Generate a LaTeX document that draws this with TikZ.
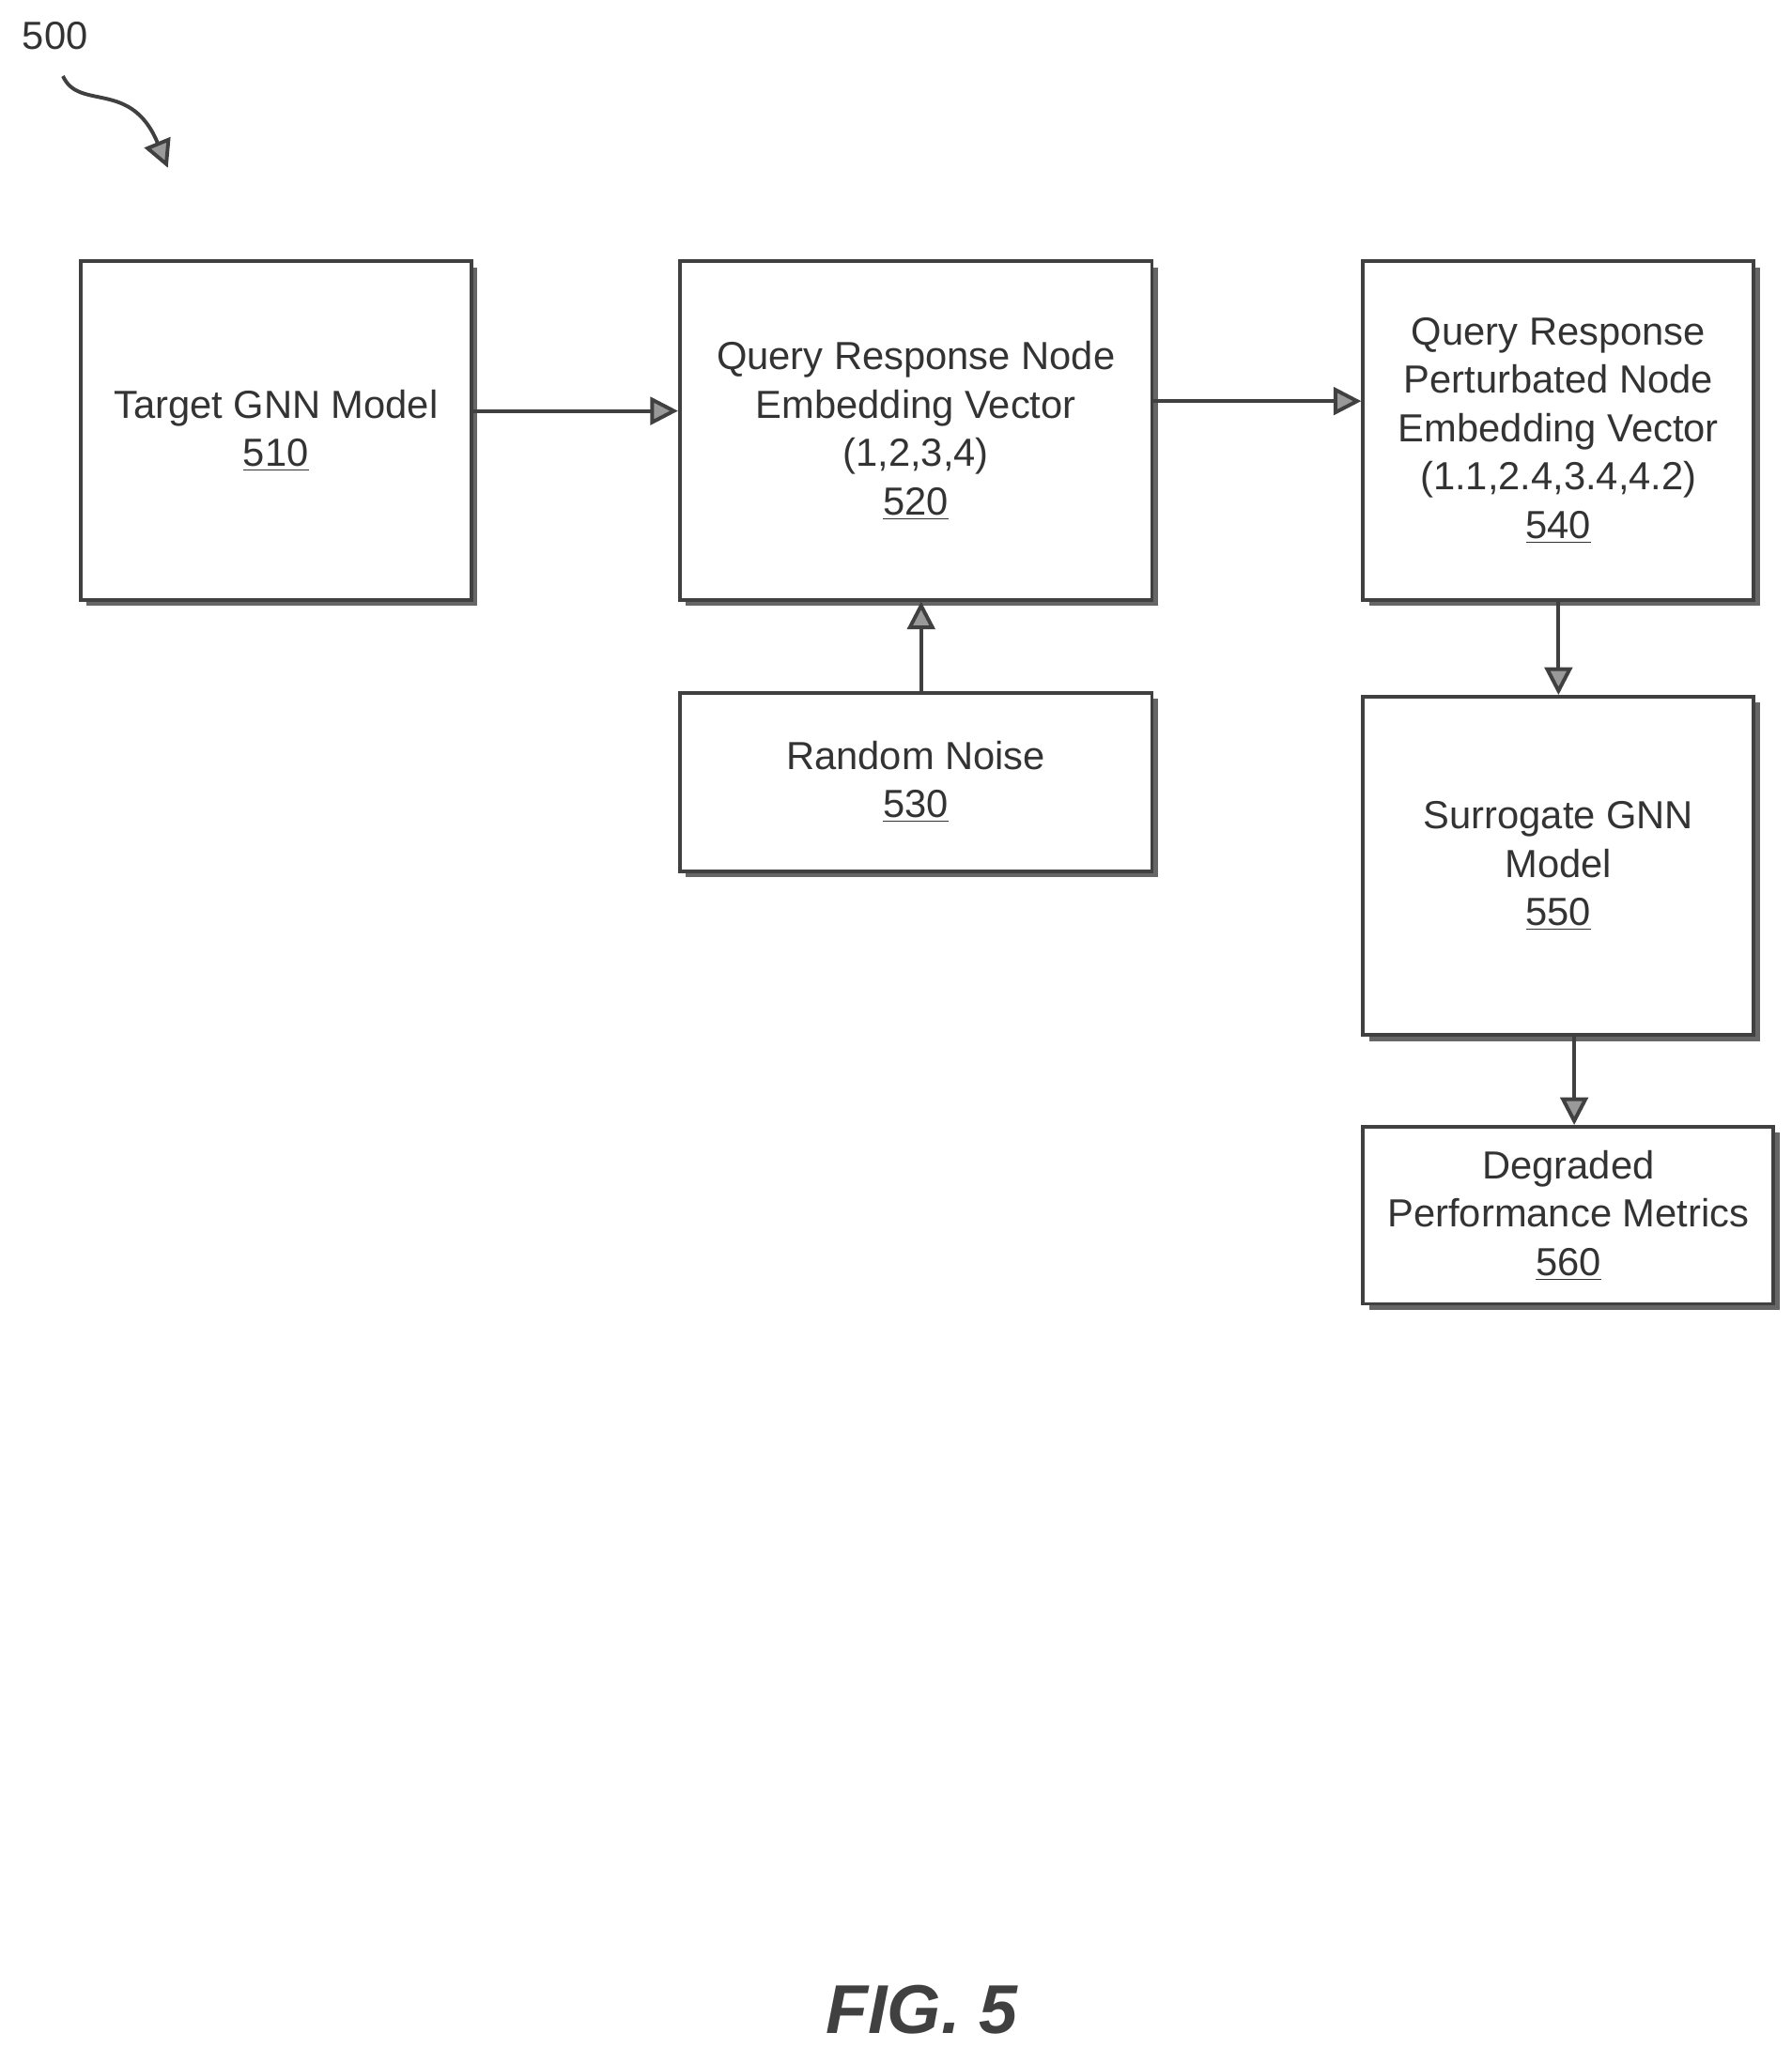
\documentclass[tikz,border=0pt]{standalone}
\usepackage{fontspec}
\setmainfont{Liberation Sans}
\usetikzlibrary{arrows.meta,calc}
\begin{document}
\begin{tikzpicture}[x=0.02cm,y=-0.02cm,
 box/.style={draw=black!75,line width=1.6pt,fill=white,anchor=north west,align=center,
   font=\fontsize{17}{21}\selectfont,text=black!80,inner sep=2pt},
 arr/.style={draw=black!75,line width=1.6pt,-{Triangle[length=12pt,width=12pt,open,fill=black!40]}}]
\useasboundingbox (0,0) rectangle (1366,1562);
\newcommand{\mybox}[6]{%
 \fill[black!60] (#2+6,#3+6) rectangle (#2+#4+6,#3+#5+6);
 \node[box,minimum width=#4*0.02cm,minimum height=#5*0.02cm] (#1) at (#2,#3) {#6};}
\mybox{a}{60}{198}{298}{258}{Target GNN Model\\\underline{510}}
\mybox{b}{517}{198}{360}{258}{Query Response Node\\Embedding Vector\\(1,2,3,4)\\\underline{520}}
\mybox{d}{1038}{198}{298}{258}{Query Response\\Perturbated Node\\Embedding Vector\\(1.1,2.4,3.4,4.2)\\\underline{540}}
\mybox{c}{517}{527}{360}{136}{Random Noise\\\underline{530}}
\mybox{e}{1038}{530}{298}{258}{Surrogate GNN\\Model\\\underline{550}}
\mybox{f}{1038}{858}{313}{135}{Degraded\\Performance Metrics\\\underline{560}}
\draw[arr] ([yshift=0.3cm]a.east) -- ([yshift=0.3cm]b.west);
\draw[arr] ([yshift=0.45cm]b.east) -- ([yshift=0.45cm]d.west);
\draw[arr] ([xshift=0.08cm]c.north) -- ([xshift=0.08cm]b.south);
\draw[arr] (d.south) -- (e.north);
\draw[arr] ([xshift=0.24cm]e.south) -- ([xshift=0.24cm]e.south |- f.north);
\node[font=\fontsize{17}{20}\selectfont,text=black!80] (n) at (42,27) {500};
\coordinate (t) at (128,128);
\draw[arr] (48,58) .. controls (60,85) and (100,60) .. (t);
\node[font=\fontsize{30}{34}\selectfont\bfseries\itshape,text=black!75] (fig) at (703,1533) {FIG. 5};
\end{tikzpicture}
\end{document}
